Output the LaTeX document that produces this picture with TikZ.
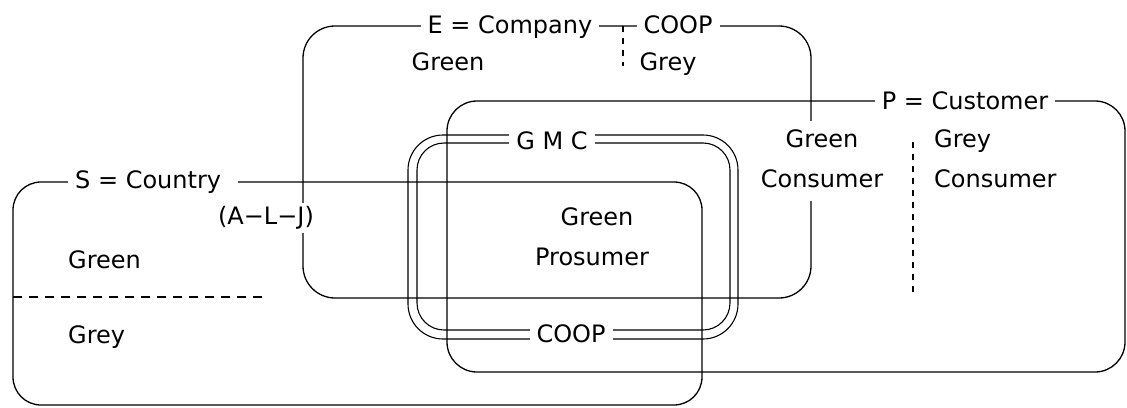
\documentclass[tikz,border=0pt]{standalone}
\usepackage{fontspec}
\setmainfont{DejaVu Sans}
\begin{document}
\begin{tikzpicture}[x=1pt,y=-1pt,
  boxline/.style={draw, line width=1.3pt},
  lbl/.style={font=\fontsize{24}{30}\selectfont, inner sep=0pt, text height=17pt, text depth=5pt, anchor=base},
  gaplbl/.style={lbl, fill=white, inner xsep=7pt, inner ysep=4pt},
  tallgap/.style={gaplbl, inner ysep=9pt},
  dashline/.style={line width=1.2pt, dash pattern=on 9pt off 7pt},
  dashshort/.style={line width=1.2pt, dash pattern=on 6pt off 6pt}]
\useasboundingbox (0,0) rectangle (1127,407);
\clip (0,0) rectangle (1127,407);
\fill[white] (0,0) rectangle (1127,407);
% boxes
\draw[boxline, rounded corners=32pt] (303,26) rectangle (811,298);
\draw[boxline, rounded corners=30pt] (447,101) rectangle (1125,372);
\draw[boxline, rounded corners=28pt] (13,182) rectangle (702,405);
\draw[boxline, line width=1.1pt, rounded corners=35pt] (408,135) rectangle (738,339);
\draw[boxline, line width=1.1pt, rounded corners=27pt] (417,143) rectangle (730,330);
% dashed separators
\coordinate (et) at (623,26);
\coordinate (eb) at (623,66);
\draw[dashshort] (et) -- (eb);
\coordinate (sl) at (13,297);
\coordinate (sr) at (265,297);
\draw[dashline] (sl) -- (sr);
\coordinate (pt) at (913,142);
\coordinate (pb) at (913,295);
\draw[dashshort] (pt) -- (pb);
% labels on lines
\node[gaplbl] (ecomp) at (510,33) {E = Company};
\node[gaplbl] (ecoop) at (678,33) {COOP};
\node[gaplbl] (pcust) at (965,109) {P = Customer};
\node[gaplbl] (gmc) at (552,149) {G M C};
\node[gaplbl, anchor=base west] (scountry) at (68,188) {S = Country\hspace*{10pt}};
\node[gaplbl] (alj) at (266,224) {(A−L−J)};
\node[gaplbl] (coopb) at (571,342) {COOP};
\node[tallgap] (gcons1) at (822,147) {Green};
\node[tallgap] (gcons2) at (822,187) {Consumer};
% free labels
\node[lbl] (egreen) at (448,70) {Green};
\node[lbl] (egrey) at (668,70) {Grey};
\node[lbl, anchor=base west] (grcons1) at (934,147) {Grey};
\node[lbl, anchor=base west] (grcons2) at (934,187) {Consumer};
\node[lbl] (pros1) at (597,225) {Green};
\node[lbl] (pros2) at (592,265) {Prosumer};
\node[lbl, anchor=base west] (sgreen) at (68,268) {Green};
\node[lbl, anchor=base west] (sgrey) at (68,343) {Grey};
\end{tikzpicture}
\end{document}
